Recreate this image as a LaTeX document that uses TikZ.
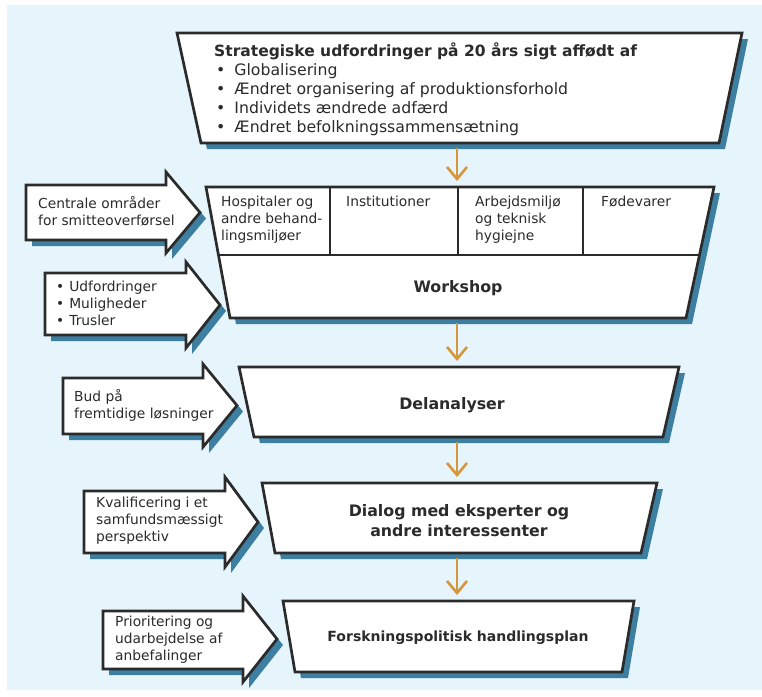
\documentclass[tikz,border=0pt]{standalone}
\usepackage{fontspec}
\setmainfont{DejaVu Sans}
\usetikzlibrary{arrows.meta}
\definecolor{bgblue}{HTML}{E6F4FC}
\definecolor{shadowblue}{HTML}{3D7FA0}
\definecolor{flowor}{HTML}{D6973A}
\definecolor{ink}{HTML}{2B2B2B}
\begin{document}
\begin{tikzpicture}[x=1pt,y=-1pt,line join=miter,
  box/.style={draw=ink,line width=2.7pt,fill=white,
    preaction={fill=shadowblue,transform canvas={xshift=6pt,yshift=-6pt}}},
  flow/.style={-{Straight Barb[length=12pt,width=20pt]},draw=flowor,line width=2.6pt,shorten <=5pt,shorten >=6pt},
  lbl/.style={inner sep=0pt,text=ink,align=left,font=\fontsize{13.8}{17}\selectfont},
  head/.style={inner sep=0pt,text=ink,align=center,font=\bfseries\fontsize{15.8}{20}\selectfont}]
\useasboundingbox (0,0) rectangle (762,696);
\fill[bgblue] (7,5) rectangle (762,690);
% input arrows on the left
\draw[box] (26,185) -- (166,185) -- (166,172) -- (200,212.5) -- (166,253) -- (166,240) -- (26,240) -- cycle;
\draw[box] (45,273) -- (186,273) -- (186,262) -- (220,305) -- (186,348) -- (186,335) -- (45,335) -- cycle;
\draw[box] (63,378) -- (203,378) -- (203,364) -- (237,405.5) -- (203,447) -- (203,434) -- (63,434) -- cycle;
\draw[box] (84,491) -- (225,491) -- (225,477) -- (258,522) -- (225,567) -- (225,553) -- (84,553) -- cycle;
\draw[box] (103,611) -- (243,611) -- (243,596) -- (277,639) -- (243,682) -- (243,669) -- (103,669) -- cycle;
\node[lbl,anchor=west] (in-1) at (38,211.5) {Centrale områder\\for smitteoverførsel};
\node[lbl,anchor=west] (in-2) at (56,303) {\textbullet\hspace{5pt}Udfordringer\\\textbullet\hspace{5pt}Muligheder\\\textbullet\hspace{5pt}Trusler};
\node[lbl,anchor=west] (in-3) at (74,405) {Bud på\\fremtidige løsninger};
\node[lbl,anchor=west] (in-4) at (96,521) {Kvalificering i et\\samfundsmæssigt\\perspektiv};
\node[lbl,anchor=west] (in-5) at (115,640) {Prioritering og\\udarbejdelse af\\anbefalinger};
% funnel boxes
\draw[box] (177,33) -- (742,33) -- (719,143) -- (201,143) -- cycle;
\draw[box] (206,187) -- (714,187) -- (686,318) -- (230,318) -- cycle;
\draw[box] (239,367) -- (679,367) -- (663,437) -- (254,437) -- cycle;
\draw[box] (262,483) -- (657,483) -- (641,553) -- (275,553) -- cycle;
\draw[box] (283,601) -- (634,601) -- (622,672) -- (295,672) -- cycle;
\draw[draw=ink,line width=2.7pt] (218.5,255) -- (699.5,255);
\foreach \cx in {330,458,583}
  \draw[draw=ink,line width=2.7pt] (\cx,187) -- (\cx,255);
\node[inner sep=0pt,text=ink,anchor=west,font=\bfseries\fontsize{15.5}{19}\selectfont] (strat-title) at (214,51) {Strategiske udfordringer på 20 års sigt affødt af};
\node[inner sep=0pt,text=ink,align=left,anchor=north west,font=\fontsize{15.7}{19}\selectfont] (strat-list) at (216,63)
  {\textbullet\hspace{9pt}Globalisering\\\textbullet\hspace{9pt}Ændret organisering af produktionsforhold\\\textbullet\hspace{9pt}Individets ændrede adfærd\\\textbullet\hspace{9pt}Ændret befolkningssammensætning};
\node[lbl,anchor=north west] (ws-c1) at (221,196) {Hospitaler og\\andre behand-\\lingsmiljøer};
\node[lbl,anchor=north west] (ws-c2) at (346,196) {Institutioner};
\node[lbl,anchor=north west] (ws-c3) at (475,196) {Arbejdsmiljø\\og teknisk\\hygiejne};
\node[lbl,anchor=north west] (ws-c4) at (601,196) {Fødevarer};
\node[head] (ws-txt) at (458,288) {Workshop};
\node[head] (del-txt) at (452,405) {Delanalyser};
\node[head] (dia-txt) at (459,521) {Dialog med eksperter og\\andre interessenter};
\node[head,font=\bfseries\fontsize{14}{18}\selectfont] (fp-txt) at (458,638) {Forskningspolitisk handlingsplan};
% flow between the boxes
\coordinate (strat-s) at (457,143);
\coordinate (ws-n) at (457,187);
\coordinate (ws-s) at (457,318);
\coordinate (del-n) at (457,367);
\coordinate (del-s) at (457,437);
\coordinate (dia-n) at (457,483);
\coordinate (dia-s) at (457,553);
\coordinate (fp-n) at (457,601);
\draw[flow] (strat-s) -- (ws-n);
\draw[flow] (ws-s) -- (del-n);
\draw[flow] (del-s) -- (dia-n);
\draw[flow] (dia-s) -- (fp-n);
\end{tikzpicture}
\end{document}
